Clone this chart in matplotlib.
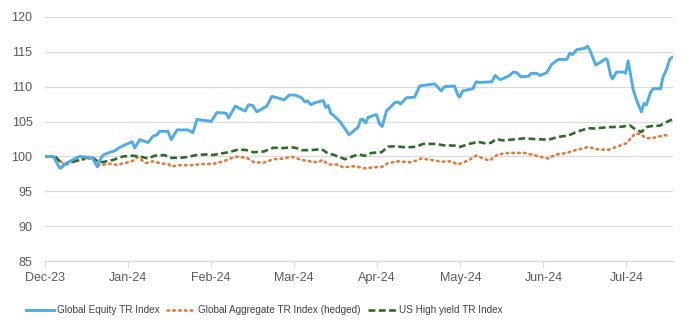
import matplotlib
matplotlib.use("Agg")
import matplotlib.pyplot as plt

plt.rcParams['font.family'] = ['Liberation Sans', 'DejaVu Sans']

# x positions are in months since Dec-23 (0 = Dec-23 tick)
month_labels = ['Dec-23', 'Jan-24', 'Feb-24', 'Mar-24', 'Apr-24', 'May-24', 'Jun-24', 'Jul-24']

equity_x = [0.00, 0.10, 0.18, 0.20, 0.25, 0.30, 0.36, 0.42, 0.57, 0.63, 0.66, 0.70, 0.78, 0.84, 0.90,
            0.99, 1.05, 1.08, 1.14, 1.24, 1.30, 1.35, 1.38, 1.48, 1.52, 1.59, 1.72, 1.78, 1.83, 1.90,
            1.96, 2.00, 2.07, 2.18, 2.21, 2.29, 2.41, 2.45, 2.50, 2.55, 2.61, 2.67, 2.73, 2.80, 2.88,
            2.94, 3.01, 3.09, 3.13, 3.16, 3.20, 3.25, 3.35, 3.38, 3.41, 3.44, 3.50, 3.55, 3.61, 3.66,
            3.77, 3.80, 3.83, 3.86, 3.89, 3.99, 4.03, 4.06, 4.11, 4.21, 4.25, 4.28, 4.35, 4.45, 4.51,
            4.69, 4.77, 4.81, 4.93, 4.97, 4.99, 5.03, 5.15, 5.19, 5.23, 5.38, 5.42, 5.48, 5.58, 5.64,
            5.68, 5.73, 5.82, 5.85, 5.92, 5.96, 6.04, 6.10, 6.18, 6.28, 6.32, 6.35, 6.40, 6.50, 6.53,
            6.56, 6.63, 6.70, 6.75, 6.77, 6.81, 6.83, 6.88, 6.97, 6.99, 7.02, 7.08, 7.13, 7.18, 7.21,
            7.24, 7.29, 7.32, 7.41, 7.44, 7.48, 7.52, 7.55]
equity = [100.0, 100.0, 98.3, 98.4, 99.0, 99.3, 99.7, 100.0, 99.8, 98.5, 99.5, 100.2, 100.6, 100.8, 101.3,
          101.8, 102.1, 101.2, 102.4, 102.0, 102.9, 103.1, 103.6, 103.6, 102.4, 103.8, 103.8, 103.4, 105.3, 105.2,
          105.1, 105.0, 106.3, 106.2, 105.5, 107.2, 106.5, 107.4, 107.3, 106.4, 106.8, 107.2, 108.6, 108.4, 108.1,
          108.8, 108.8, 108.4, 107.8, 108.0, 107.4, 107.7, 108.0, 107.0, 107.3, 106.2, 105.6, 105.0, 104.0, 103.1,
          104.2, 105.3, 105.3, 104.8, 105.6, 106.0, 104.6, 104.3, 106.5, 107.7, 107.8, 107.5, 108.4, 108.5, 110.1,
          110.4, 109.4, 110.0, 110.1, 108.8, 108.5, 109.4, 109.7, 110.7, 110.6, 110.7, 111.6, 111.0, 111.5, 112.1,
          112.0, 111.4, 111.5, 111.9, 111.9, 111.6, 112.0, 113.2, 113.9, 113.9, 114.8, 114.6, 115.3, 115.5, 115.8,
          115.2, 113.1, 113.6, 114.0, 113.8, 111.6, 111.1, 112.1, 112.1, 111.9, 113.7, 109.6, 107.8, 106.4, 107.6,
          107.4, 109.2, 109.7, 109.7, 111.4, 112.4, 113.9, 114.2]

agg_x = [0.00, 0.12, 0.18, 0.26, 0.34, 0.44, 0.52, 0.60, 0.66, 0.78, 0.86, 0.98, 1.06, 1.11, 1.16,
         1.22, 1.30, 1.42, 1.48, 1.52, 1.62, 1.78, 1.87, 2.03, 2.15, 2.23, 2.31, 2.43, 2.51, 2.63,
         2.75, 2.87, 2.97, 3.09, 3.19, 3.29, 3.34, 3.41, 3.51, 3.59, 3.73, 3.85, 3.97, 4.07, 4.13,
         4.25, 4.41, 4.53, 4.65, 4.77, 4.89, 4.97, 5.09, 5.19, 5.29, 5.35, 5.45, 5.58, 5.78, 5.86,
         5.98, 6.06, 6.14, 6.28, 6.38, 6.54, 6.66, 6.78, 6.90, 7.00, 7.10, 7.16, 7.24, 7.34, 7.46, 7.53]
agg = [100.0, 100.0, 99.3, 98.95, 99.3, 99.5, 99.7, 99.5, 98.75, 98.95, 98.8, 99.1, 99.4, 99.9, 99.5,
       99.05, 99.3, 98.95, 98.95, 98.55, 98.75, 98.75, 98.9, 98.95, 99.3, 99.7, 99.95, 99.8, 99.2, 99.1,
       99.6, 99.7, 99.95, 99.5, 99.3, 99.15, 99.5, 98.85, 98.85, 98.45, 98.6, 98.3, 98.45, 98.55, 99.05,
       99.3, 99.15, 99.7, 99.5, 99.25, 99.3, 98.85, 99.4, 100.1, 99.65, 99.4, 100.3, 100.5, 100.5, 100.25,
       99.9, 99.7, 100.25, 100.5, 100.9, 101.35, 101.0, 100.95, 101.45, 101.9, 103.25, 103.25, 102.6, 102.7, 103.05, 102.9]

hy_x = [0.00, 0.12, 0.22, 0.30, 0.42, 0.52, 0.58, 0.64, 0.70, 0.82, 0.94, 1.06, 1.14, 1.24, 1.32,
        1.44, 1.50, 1.62, 1.70, 1.82, 1.96, 2.02, 2.11, 2.21, 2.33, 2.43, 2.51, 2.63, 2.75, 2.87,
        2.97, 3.03, 3.09, 3.19, 3.33, 3.41, 3.47, 3.55, 3.61, 3.77, 3.85, 3.93, 4.05, 4.13, 4.21,
        4.35, 4.47, 4.55, 4.71, 4.79, 4.93, 4.99, 5.11, 5.21, 5.29, 5.37, 5.43, 5.51, 5.61, 5.78,
        5.88, 6.06, 6.18, 6.30, 6.42, 6.54, 6.62, 6.78, 6.94, 7.04, 7.10, 7.18, 7.24, 7.30, 7.40, 7.46, 7.55]
hy = [100.0, 100.0, 98.8, 99.1, 99.5, 99.9, 99.8, 99.2, 99.2, 99.5, 100.0, 100.1, 100.0, 99.7, 100.1,
      100.2, 99.8, 99.8, 99.9, 100.2, 100.3, 100.2, 100.4, 100.6, 101.0, 100.9, 100.6, 100.7, 101.25, 101.2,
      101.3, 101.2, 100.9, 100.9, 101.05, 100.4, 100.25, 99.9, 99.6, 100.3, 100.1, 100.5, 100.6, 101.4, 101.45,
      101.3, 101.4, 101.8, 101.8, 101.6, 101.55, 101.35, 101.8, 102.1, 101.9, 101.95, 102.5, 102.3, 102.4, 102.6,
      102.5, 102.4, 102.8, 103.0, 103.6, 104.05, 104.0, 104.2, 104.25, 104.45, 103.95, 103.5, 104.2, 104.35, 104.4, 104.8, 105.3]

fig = plt.figure(figsize=(6.9, 3.24), dpi=100)
ax = fig.add_axes([0.0652, 0.194, 0.9098, 0.754])

ax.plot(equity_x, equity, color='#4EACE6', lw=2.1, solid_joinstyle='round', label='Global Equity TR Index', zorder=3)
ax.plot(agg_x, agg, color='#E07B3C', lw=1.9, linestyle=(0, (0.6, 1.6)), dash_capstyle='round',
        label='Global Aggregate TR Index (hedged)', zorder=2)
ax.plot(hy_x, hy, color='#2F6B2A', lw=1.9, linestyle=(0, (2.6, 1.3)), label='US High yield TR Index', zorder=2)

ax.set_xlim(0, 7.557)
ax.set_ylim(85, 120)
ax.set_yticks(range(85, 121, 5))
ax.set_xticks(range(len(month_labels)))
ax.set_xticklabels(month_labels)

ax.grid(axis='y', color='#D9D9D9', lw=0.9)
ax.set_axisbelow(True)
for s in ['top', 'right', 'left']:
    ax.spines[s].set_visible(False)
ax.spines['bottom'].set_color('#D9D9D9')
ax.spines['bottom'].set_linewidth(0.9)
ax.tick_params(axis='y', length=0, pad=9, labelsize=9, labelcolor='#595959')
ax.tick_params(axis='x', length=4, width=0.9, color='#D9D9D9', pad=4, labelsize=9, labelcolor='#595959')

leg = fig.legend(loc='lower center', bbox_to_anchor=(0.383, 0.0), ncol=3, frameon=False,
                 fontsize=7.2, handlelength=2.8, handletextpad=0.25, columnspacing=0.8, labelcolor='#404040')

fig.savefig('out.png', dpi=100)
